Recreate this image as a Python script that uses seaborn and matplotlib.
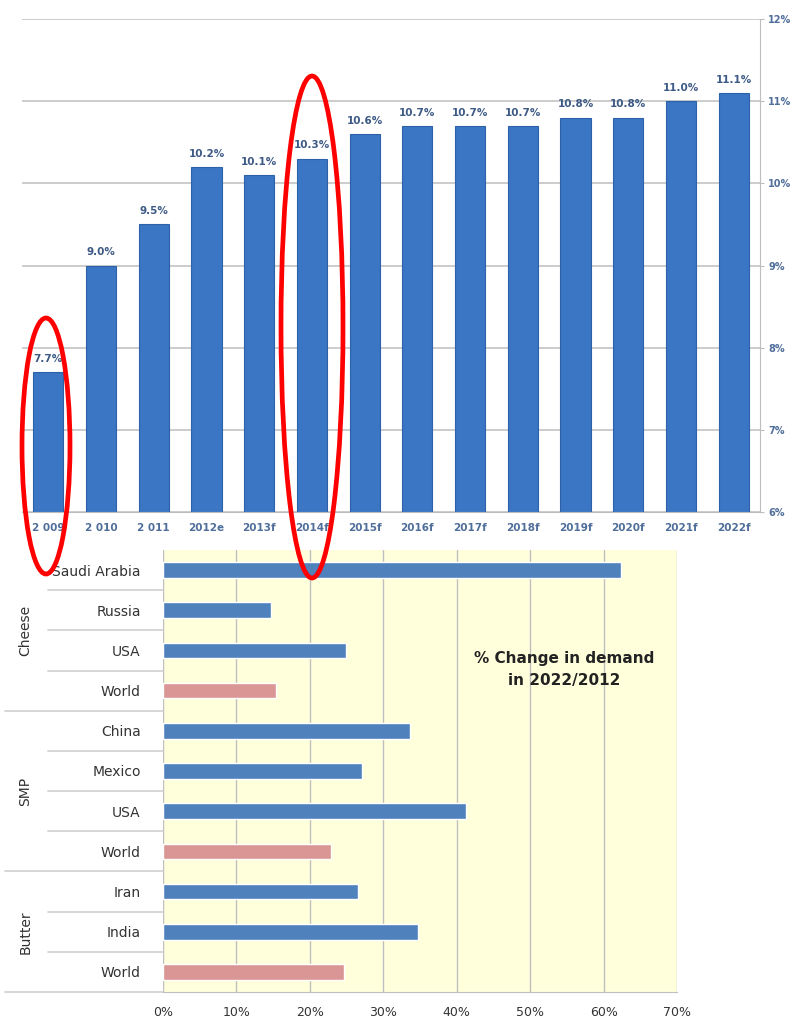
import numpy as np
import pandas as pd
import seaborn as sns
import matplotlib.pyplot as plt
from matplotlib.patches import Ellipse

sns.set_style("white")
plt.rcParams['font.family'] = ['DejaVu Sans']

# top chart data
years = ['2 009', '2 010', '2 011', '2012e', '2013f', '2014f', '2015f', '2016f',
         '2017f', '2018f', '2019f', '2020f', '2021f', '2022f']
share = [7.7, 9.0, 9.5, 10.2, 10.1, 10.3, 10.6, 10.7, 10.7, 10.7, 10.8, 10.8, 11.0, 11.1]

# bottom chart data
groups = ['Cheese', 'Cheese', 'Cheese', 'Cheese', 'SMP', 'SMP', 'SMP', 'SMP',
          'Butter', 'Butter', 'Butter']
countries = ['Saudi Arabia', 'Russia', 'USA', 'World', 'China', 'Mexico', 'USA', 'World',
             'Iran', 'India', 'World']
change = [62.4, 14.7, 24.9, 15.4, 33.6, 27.1, 41.3, 22.9, 26.6, 34.7, 24.6]

fig = plt.figure(figsize=(7.92, 10.23), dpi=100)

# ---------- top: bar chart ----------
ax1 = fig.add_axes([22 / 792, 1 - 512 / 1023, (760 - 22) / 792, (512 - 19) / 1023])
df1 = pd.DataFrame({'year': years, 'share': share})
sns.barplot(data=df1, x='year', y='share', color='#3A76C4', width=0.57,
            saturation=1, edgecolor='#2E62A8', linewidth=0.8, ax=ax1)
ax1.set_ylim(6, 12)
ax1.yaxis.tick_right()
ax1.set_yticks(range(6, 13))
ax1.set_yticklabels([f'{v}%' for v in range(6, 13)], fontsize=7,
                    color='#4F6E9A', fontweight='bold')
ax1.grid(axis='y', color='#C4C4C4', lw=1.2)
ax1.set_axisbelow(True)
ax1.set_xlabel('')
ax1.set_ylabel('')
ax1.tick_params(axis='x', length=0, pad=8)
ax1.tick_params(axis='y', length=3, color='#BDBDBD', pad=3)
for lbl in ax1.get_xticklabels():
    lbl.set_fontsize(7.5)
    lbl.set_fontweight('bold')
    lbl.set_color('#4F6E9A')
for side in ['top', 'left']:
    ax1.spines[side].set_visible(False)
ax1.spines['right'].set_color('#BDBDBD')
ax1.spines['bottom'].set_color('#BDBDBD')
ax1.set_xticks(np.arange(-0.5, len(years), 1), minor=True)
ax1.tick_params(axis='x', which='minor', length=4, color='#BDBDBD')
for b, v in zip(ax1.patches, share):
    ax1.text(b.get_x() + b.get_width() / 2, v + 0.1, f'{v:.1f}%', ha='center',
             va='bottom', fontsize=7.5, fontweight='bold', color='#3D5A85')
ax1.set_xlim(-0.5, len(years) - 0.5)

# ---------- bottom: horizontal bars ----------
ax2 = fig.add_axes([163 / 792, 1 - 992 / 1023, (677 - 163) / 792, (992 - 550) / 1023])
keys = [f'{g}|{c}' for g, c in zip(groups, countries)]
kind = ['world' if c == 'World' else 'country' for c in countries]
df2 = pd.DataFrame({'key': keys, 'change': change, 'kind': kind})
sns.barplot(data=df2, y='key', x='change', hue='kind', order=keys, dodge=False,
            palette={'country': '#4F81BD', 'world': '#D99694'}, orient='h',
            width=0.39, saturation=1, legend=False, ax=ax2)
ax2.set_facecolor('#FFFFDC')
ax2.set_xlim(0, 70)
ax2.set_ylim(len(keys) - 0.5, -0.5)
ax2.set_xticks(range(0, 71, 10))
ax2.set_xticklabels([f'{v}%' for v in range(0, 71, 10)], fontsize=9, color='#333333')
ax2.grid(axis='x', color='#BFBFBF', lw=1)
ax2.set_axisbelow(True)
ax2.set_yticks(range(len(keys)))
ax2.set_yticklabels(countries, fontsize=10, color='#333333')
ax2.tick_params(axis='y', length=0, pad=16)
ax2.tick_params(axis='x', length=0, pad=10)
ax2.set_xlabel('')
ax2.set_ylabel('')
for side in ['top', 'right', 'left']:
    ax2.spines[side].set_visible(False)
ax2.spines['bottom'].set_color('#BFBFBF')

# row separators and group boundaries on the left
for i in range(len(keys)):
    y = i + 0.5
    last = i == len(keys) - 1 or groups[i] != groups[i + 1]
    x0 = -0.307 if last else -0.224
    ax2.plot([x0, 0], [y, y], transform=ax2.get_yaxis_transform(), color='#D0D0D0',
             lw=1.2, clip_on=False)
for g in ['Cheese', 'SMP', 'Butter']:
    idx = [i for i, gg in enumerate(groups) if gg == g]
    ax2.text(-0.268, np.mean(idx), g, rotation=90, ha='center', va='center',
             fontsize=10, color='#333333', transform=ax2.get_yaxis_transform())

ax2.text(0.78, 0.73, '% Change in demand\nin 2022/2012', transform=ax2.transAxes,
         ha='center', va='center', fontsize=11, fontweight='bold', color='#222222',
         linespacing=1.6)

# red highlight ellipses over both charts
ov = fig.add_axes([0, 0, 1, 1])
ov.set_xlim(0, 792)
ov.set_ylim(1023, 0)
ov.axis('off')
ov.patch.set_alpha(0)
ov.add_patch(Ellipse((46, 446), 48, 256, fill=False, edgecolor='#FF0000', lw=3.4))
ov.add_patch(Ellipse((312, 327), 62, 502, fill=False, edgecolor='#FF0000', lw=3.4))

fig.savefig('out.png', dpi=100)
